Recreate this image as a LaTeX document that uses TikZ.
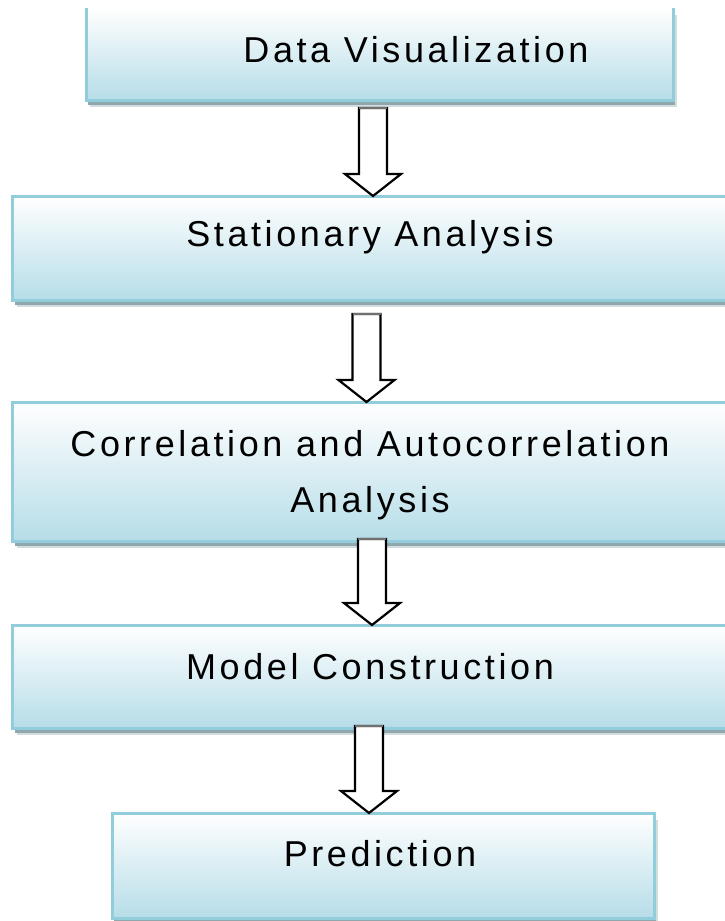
\documentclass[tikz,border=0pt]{standalone}
\usepackage{fontspec}
\setmainfont{Liberation Sans}
\newfontfamily\stagefont{Liberation Sans}[LetterSpace=10]
\usetikzlibrary{calc,shadows}
\definecolor{bxborder}{HTML}{92CDDC}
\definecolor{bxbottom}{HTML}{B6DDE8}
\definecolor{shdark}{HTML}{8FA7AD}
\definecolor{shlight}{HTML}{D3DCDF}
\definecolor{arrtop}{HTML}{707070}
\tikzset{
  stage/.style={rectangle, draw=bxborder, line width=3pt, top color=white,
    bottom color=bxbottom, inner sep=0pt, outer sep=0pt,
    general shadow={fill=shlight, shadow xshift=4pt, shadow yshift=-7pt},
    general shadow={fill=shdark, shadow xshift=2pt, shadow yshift=-4.5pt}},
  stageside/.style={draw=bxborder, line width=3pt},
  stagetext/.style={font=\stagefont\fontsize{36}{56}\selectfont, inner sep=0pt,
    anchor=base, align=center, text=black},
  blockarrow/.style={fill=white, draw=black, line width=2.2pt, line join=miter},
  arrowtop/.style={draw=arrtop, line width=2.4pt}
}
\newcommand\blkarrow[5]{%
  \coordinate (#1tail) at ($(#4,0 |- #2.south)+(0,#5)$);
  \coordinate (#1tip) at (#4,0 |- #3.north);
  \draw[blockarrow] let \p1=(#1tail), \p2=(#1tip) in
    (\x1-14pt,\y1) -- (\x1-14pt,\y2+22pt) -- (\x1-28pt,\y2+22pt) -- (\x2,\y2)
    -- (\x1+28pt,\y2+22pt) -- (\x1+14pt,\y2+22pt) -- (\x1+14pt,\y1) -- cycle;
  \draw[arrowtop] ($(#1tail)+(-14,0)$) -- ($(#1tail)+(14,0)$);
}
\begin{document}
\begin{tikzpicture}[x=1pt,y=-1pt]
\useasboundingbox (0,0) rectangle (725,921);
\clip (0,0) rectangle (725,921);

% boxes
\node[stage, draw=none, minimum width=587pt, minimum height=92pt] (b1) at (379.5,54) {};
\draw[stageside] (b1.north west) -- (b1.south west) -- (b1.south east) -- (b1.north east);
\node[stage, minimum width=732.5pt, minimum height=104pt] (b2) at (378.75,248) {};
\node[stage, minimum width=732.5pt, minimum height=139pt] (b3) at (378.75,471.5) {};
\node[stage, minimum width=732.5pt, minimum height=103pt] (b4) at (378.75,676.5) {};
\node[stage, minimum width=542pt, minimum height=105pt] (b5) at (383,865.5) {};

% texts
\node[stagetext] (t1) at (416,62) {Data Visualization};
\node[stagetext] (t2) at (370,246) {Stationary Analysis};
\node[stagetext, anchor=north] (t3) at (370,430) {Correlation and Autocorrelation\\Analysis};
\node[stagetext] (t4) at (370,679) {Model Construction};
\node[stagetext] (t5) at (380,866) {Prediction};

% block arrows
\blkarrow{a1}{b1}{b2}{373}{8}
\blkarrow{a2}{b2}{b3}{366.5}{14}
\blkarrow{a3}{b3}{b4}{372}{-2}
\blkarrow{a4}{b4}{b5}{369}{-2}
\end{tikzpicture}
\end{document}
